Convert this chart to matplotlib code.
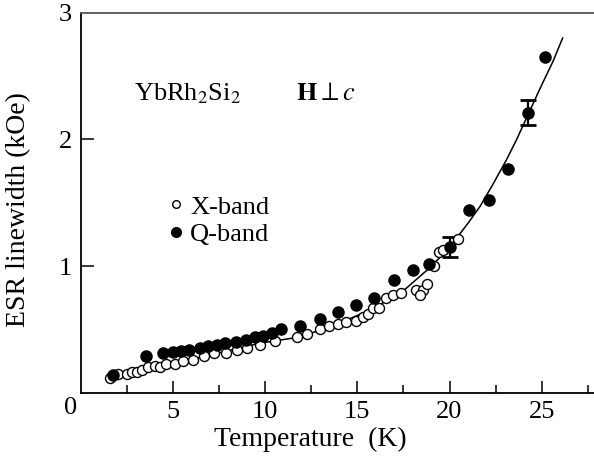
import matplotlib
matplotlib.use("Agg")
import matplotlib.pyplot as plt
from matplotlib.lines import Line2D

plt.rcParams["font.family"] = ["Liberation Serif", "DejaVu Serif"]
plt.rcParams["mathtext.fontset"] = "stix"

# X-band (open circles)
x_T = [1.59, 2.03, 2.51, 2.79, 3.06, 3.33, 3.65, 4.03, 4.30, 4.63, 5.12, 5.55,
       6.09, 6.69, 7.23, 7.88, 8.48, 9.02, 9.72, 10.54, 11.73, 12.27, 12.98,
       13.46, 13.95, 14.38, 14.93, 15.31, 15.58, 15.85, 16.17, 16.55, 16.93,
       17.36, 18.18, 18.56, 18.40, 18.77, 19.15, 19.43, 19.65, 20.46]
x_W = [0.12, 0.15, 0.15, 0.16, 0.16, 0.18, 0.20, 0.21, 0.20, 0.23, 0.23, 0.25,
       0.26, 0.29, 0.31, 0.31, 0.34, 0.35, 0.38, 0.41, 0.44, 0.46, 0.50,
       0.53, 0.54, 0.56, 0.57, 0.60, 0.62, 0.67, 0.67, 0.75, 0.77,
       0.79, 0.81, 0.81, 0.77, 0.86, 1.00, 1.11, 1.13, 1.21]

# Q-band (filled circles)
q_T = [1.76, 3.54, 4.47, 5.01, 5.44, 5.88, 6.47, 6.91, 7.40, 7.83, 8.42, 8.96,
       9.45, 9.89, 10.37, 10.86, 11.89, 12.98, 13.95, 14.93, 15.90, 16.99,
       18.02, 18.88, 20.02, 21.05, 22.13, 23.16, 24.25, 25.17]
q_W = [0.14, 0.29, 0.31, 0.32, 0.33, 0.34, 0.35, 0.37, 0.38, 0.39, 0.40, 0.42,
       0.44, 0.45, 0.47, 0.50, 0.53, 0.58, 0.64, 0.69, 0.75, 0.89,
       0.97, 1.02, 1.15, 1.44, 1.52, 1.77, 2.21, 2.65]

# error bars on two Q-band points
err_T = [20.02, 24.25]
err_W = [1.15, 2.21]
err_dW = [0.08, 0.10]

# fit curve
fit_T = [1.6, 4.0, 6.5, 9.7, 11.9, 13.7, 15.5, 17.3, 18.8, 19.84, 20.38, 21.01,
         21.65, 22.37, 23.09, 23.64, 24.27, 24.90, 25.62, 26.13]
fit_W = [0.13, 0.21, 0.28, 0.39, 0.44, 0.53, 0.64, 0.78, 0.97, 1.12, 1.22, 1.34,
         1.47, 1.65, 1.84, 2.00, 2.20, 2.40, 2.62, 2.80]

fig = plt.figure(figsize=(5.94, 4.62), dpi=100)
ax = fig.add_axes([0.1357, 0.150, 0.8643, 0.8225])

ax.plot(fit_T, fit_W, color="black", lw=1.1, zorder=1)
ax.errorbar(err_T, err_W, yerr=err_dW, fmt="none", ecolor="black",
            elinewidth=1.6, capsize=6, capthick=2, zorder=2)
ax.plot(x_T, x_W, "o", ms=7.2, mfc="white", mec="black", mew=1.0,
        ls="none", zorder=3)
ax.plot(q_T, q_W, "o", ms=8, mfc="black", mec="black", ls="none", zorder=4)

ax.set_xlim(0, 27.83)
ax.set_ylim(0, 3)

ax.spines["right"].set_visible(False)
ax.spines["top"].set_color("#555555")
for s in ["left", "bottom", "top"]:
    ax.spines[s].set_linewidth(1.3)

ax.set_xticks([5, 10, 15, 20, 25])
ax.set_xticks([2.5, 7.5, 12.5, 17.5, 22.5, 27.5], minor=True)
ax.set_yticks([1, 2, 3])
ax.tick_params(axis="both", which="major", direction="in", length=9,
               width=1.1, labelsize=19, pad=6)
ax.tick_params(axis="x", which="minor", direction="in", length=5.5, width=1.1)
ax.tick_params(top=False, right=False, which="both")
ax.yaxis.get_major_ticks()[-1].tick1line.set_visible(False)
ax.text(-0.007, -0.012, "0", transform=ax.transAxes, ha="right", va="top",
        fontsize=19)

ax.set_xlabel("Temperature  (K)", fontsize=20)
ax.xaxis.set_label_coords(0.447, -0.09)
ax.set_ylabel("ESR linewidth (kOe)", fontsize=20)
ax.yaxis.set_label_coords(-0.097, 0.483)

ax.text(2.9, 2.36, "YbRh$_2$Si$_2$", fontsize=19, ha="left", va="center")
ax.text(11.7, 2.36, r"$\mathbf{H}\perp c$", fontsize=19, ha="left", va="center")

handles = [Line2D([], [], marker="o", ls="none", ms=5.5, mfc="white",
                  mec="black", mew=1.0),
           Line2D([], [], marker="o", ls="none", ms=7, mfc="black",
                  mec="black")]
ax.legend(handles, ["X-band", "Q-band"], loc="center left",
          bbox_to_anchor=(0.17, 0.453), frameon=False, fontsize=19,
          handlelength=0.6, handletextpad=0.25, labelspacing=0.15,
          borderpad=0, borderaxespad=0)

fig.savefig("out.png", dpi=100)
